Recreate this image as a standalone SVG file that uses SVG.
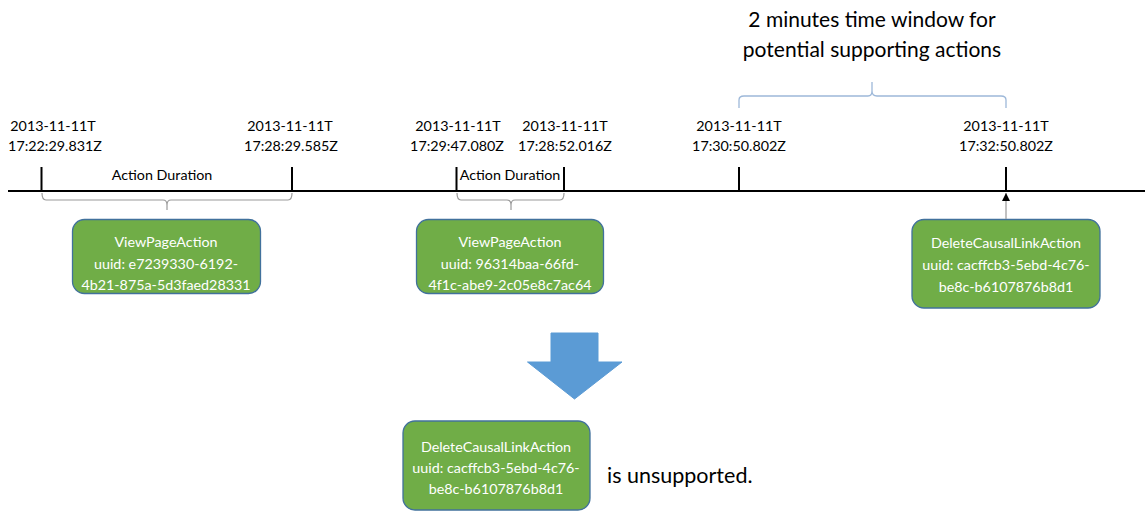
<svg xmlns="http://www.w3.org/2000/svg" width="1145" height="512" viewBox="0 0 1145 512">
<defs>
<style>
.t{font-family:Lato,"Open Sans","Liberation Sans",sans-serif;fill:#000;text-anchor:middle}
.ts{font-size:14.3px}
.bt{font-family:Lato,"Open Sans","Liberation Sans",sans-serif;fill:#fff;text-anchor:middle;font-size:14.3px}
.box{fill:#70AD47;stroke:#41719C;stroke-width:1.3}
.tick{stroke:#000;stroke-width:2;fill:none}
.brace{stroke:#9a9a9a;stroke-width:1.2;fill:none}
</style>
<marker id="ah" viewBox="0 0 10 10" refX="10" refY="5" markerWidth="8" markerHeight="8" markerUnits="userSpaceOnUse" orient="auto">
<path d="M0,0 L10,5 L0,10 z" fill="#000"/>
</marker>
</defs>
<rect width="1145" height="512" fill="#fff"/>

<g id="title">
<text class="t" x="872" y="27" style="font-size:21px">2 minutes time window for</text>
<text class="t" x="872" y="57" style="font-size:21px">potential supporting actions</text>
</g>

<g id="timeline">
<line x1="8" y1="191" x2="1145" y2="191" class="tick"/>
<line x1="41.5" y1="167" x2="41.5" y2="191" class="tick"/>
<line x1="292" y1="167" x2="292" y2="191" class="tick"/>
<line x1="456.5" y1="167" x2="456.5" y2="191" class="tick"/>
<line x1="564" y1="167" x2="564" y2="191" class="tick"/>
<line x1="739" y1="167" x2="739" y2="191" class="tick"/>
<line x1="1006" y1="167" x2="1006" y2="191" class="tick"/>
</g>

<g id="labels">
<text class="t ts" x="53" y="131">2013-11-11T</text>
<text class="t ts" x="55" y="151">17:22:29.831Z</text>
<text class="t ts" x="290" y="131">2013-11-11T</text>
<text class="t ts" x="291" y="151">17:28:29.585Z</text>
<text class="t ts" x="458" y="131">2013-11-11T</text>
<text class="t ts" x="457" y="151">17:29:47.080Z</text>
<text class="t ts" x="565" y="131">2013-11-11T</text>
<text class="t ts" x="565" y="151">17:28:52.016Z</text>
<text class="t ts" x="739" y="131">2013-11-11T</text>
<text class="t ts" x="739" y="151">17:30:50.802Z</text>
<text class="t ts" x="1006" y="131">2013-11-11T</text>
<text class="t ts" x="1006" y="151">17:32:50.802Z</text>
<text class="t ts" x="162" y="180">Action Duration</text>
<text class="t ts" x="510" y="180">Action Duration</text>
</g>

<g id="braces">
<path class="brace" d="M42,193 Q42,200 46,200 L163,200 Q167,200 167,205 L167,210 M167,205 Q167,200 171,200 L288,200 Q292,200 292,193"/>
<path class="brace" d="M457,193 Q457,200 461,200 L507,200 Q511,200 511,205 L511,210 M511,205 Q511,200 515,200 L560,200 Q564,200 564,193"/>
<path d="M739,108 L739,100 Q739,96 744,96 L868,96 Q872,96 872,91 L872,82 M872,91 Q872,96 877,96 L1001,96 Q1006,96 1006,100 L1006,108" fill="none" stroke="#9DB8D9" stroke-width="1.3"/>
</g>

<g id="node-view1">
<rect class="box" x="72.5" y="219.5" width="188" height="74" rx="12"/>
<text class="bt" x="166" y="247">ViewPageAction</text>
<text class="bt" x="166" y="269">uuid: e7239330-6192-</text>
<text class="bt" x="166" y="290">4b21-875a-5d3faed28331</text>
</g>

<g id="node-view2">
<rect class="box" x="416.5" y="219.5" width="187" height="74" rx="12"/>
<text class="bt" x="510" y="247">ViewPageAction</text>
<text class="bt" x="510" y="269">uuid: 96314baa-66fd-</text>
<text class="bt" x="510" y="290">4f1c-abe9-2c05e8c7ac64</text>
</g>

<g id="node-delete">
<rect class="box" x="912" y="219.5" width="188" height="88.5" rx="12"/>
<text class="bt" x="1006" y="248">DeleteCausalLinkAction</text>
<text class="bt" x="1006" y="270">uuid: cacffcb3-5ebd-4c76-</text>
<text class="bt" x="1006" y="292">be8c-b6107876b8d1</text>
</g>

<g id="connectors">
<line x1="1006" y1="219" x2="1006" y2="193" stroke="#a0a0a0" stroke-width="1.3" marker-end="url(#ah)"/>
</g>

<g id="big-arrow">
<path d="M551,333 L598,333 L598,362 L622,362 L574.5,399 L527.5,362 L551,362 z" fill="#5B9BD5" stroke="#5B9BD5" stroke-width="1"/>
</g>

<g id="node-result">
<rect class="box" x="403" y="421" width="187" height="89" rx="12"/>
<text class="bt" x="496" y="452">DeleteCausalLinkAction</text>
<text class="bt" x="496" y="473">uuid: cacffcb3-5ebd-4c76-</text>
<text class="bt" x="496" y="494">be8c-b6107876b8d1</text>
</g>

<g id="note">
<text class="t" x="607" y="483" style="font-size:21.5px;text-anchor:start">is unsupported.</text>
</g>
</svg>
